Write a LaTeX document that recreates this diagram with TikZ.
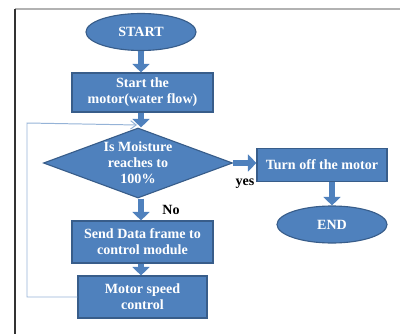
\documentclass[tikz,border=0pt]{standalone}
\usepackage{fontspec}
\setmainfont{Liberation Serif}
\usetikzlibrary{shapes.geometric,arrows.meta}
\definecolor{boxfill}{HTML}{4F81BD}
\definecolor{boxline}{HTML}{385D8A}
\definecolor{loopline}{HTML}{95B3D7}
\begin{document}
\begin{tikzpicture}[x=0.025cm, y=-0.025cm,
    txt/.style={text=white, font=\bfseries\fontsize{10}{11.3}\selectfont, align=center},
    box/.style={rectangle, draw=boxline, fill=boxfill, line width=0.8pt, inner sep=2pt, txt},
    term/.style={ellipse, draw=boxline, fill=boxfill, line width=0.8pt, minimum width=2.75cm, minimum height=0.925cm, inner sep=0pt, txt},
    decide/.style={diamond, aspect=2.7, draw=boxline, fill=boxfill, line width=0.8pt, minimum width=4.725cm, minimum height=1.75cm, inner sep=0pt, txt},
    flow/.style={draw=boxfill, line width=3.8pt, -{Triangle[width=12pt,length=6pt]}},
    fb/.style={draw=loopline, line width=0.7pt, -{Straight Barb[length=4pt,width=6pt]}},
    lbl/.style={font=\bfseries\fontsize{10}{11.3}\selectfont}]
    \useasboundingbox (0,0) rectangle (400,334);

    % frame
    \draw [gray!60, line width=1pt] (15,9) -- (400,9);
    \draw [black!80, line width=0.8pt] (15,9) -- (15,334);

    \node [term] (start) at (141,32) {START};
    \node [box, minimum width=3.525cm, minimum height=0.975cm] (motor) at (142.5,92.5) {Start the\\motor(water flow)};
    \node [decide] (moist) at (138,163) {Is Moisture\\reaches to\\100\%};
    \node [box, minimum width=3.25cm, minimum height=0.825cm] (off) at (322,165) {Turn off the motor};
    \node [term] (end) at (332,224.5) {END};
    \node [box, minimum width=3.525cm, minimum height=1.05cm] (send) at (142.5,242) {Send Data frame to\\control module};
    \node [box, minimum width=3.225cm, minimum height=1.05cm] (speed) at (142.5,297) {Motor speed\\control};
    \coordinate (loop) at (27,123);
    \coordinate (loopend) at (137,125);

    % connectors
    \draw [flow] (start.south -| 141,0) -- (motor.north -| 141,0);
    \draw [flow] (motor.south -| 141,0) -- (moist.north -| 141,0);
    \draw [flow] (moist.east) -- (off.west |- moist.east);
    \draw [flow] (off.south -| end.north) -- (end.north);
    \draw [flow] (moist.south -| 141,0) -- (send.north -| 141,0);
    \draw [flow] (send.south -| 141,0) -- (speed.north -| 141,0);
    \draw [fb] (speed.west) -| (loop) -- (loopend);

    \node [lbl] (yes) at (245,184) {yes};
    \node [lbl] (no) at (171,210) {No};
\end{tikzpicture}
\end{document}
